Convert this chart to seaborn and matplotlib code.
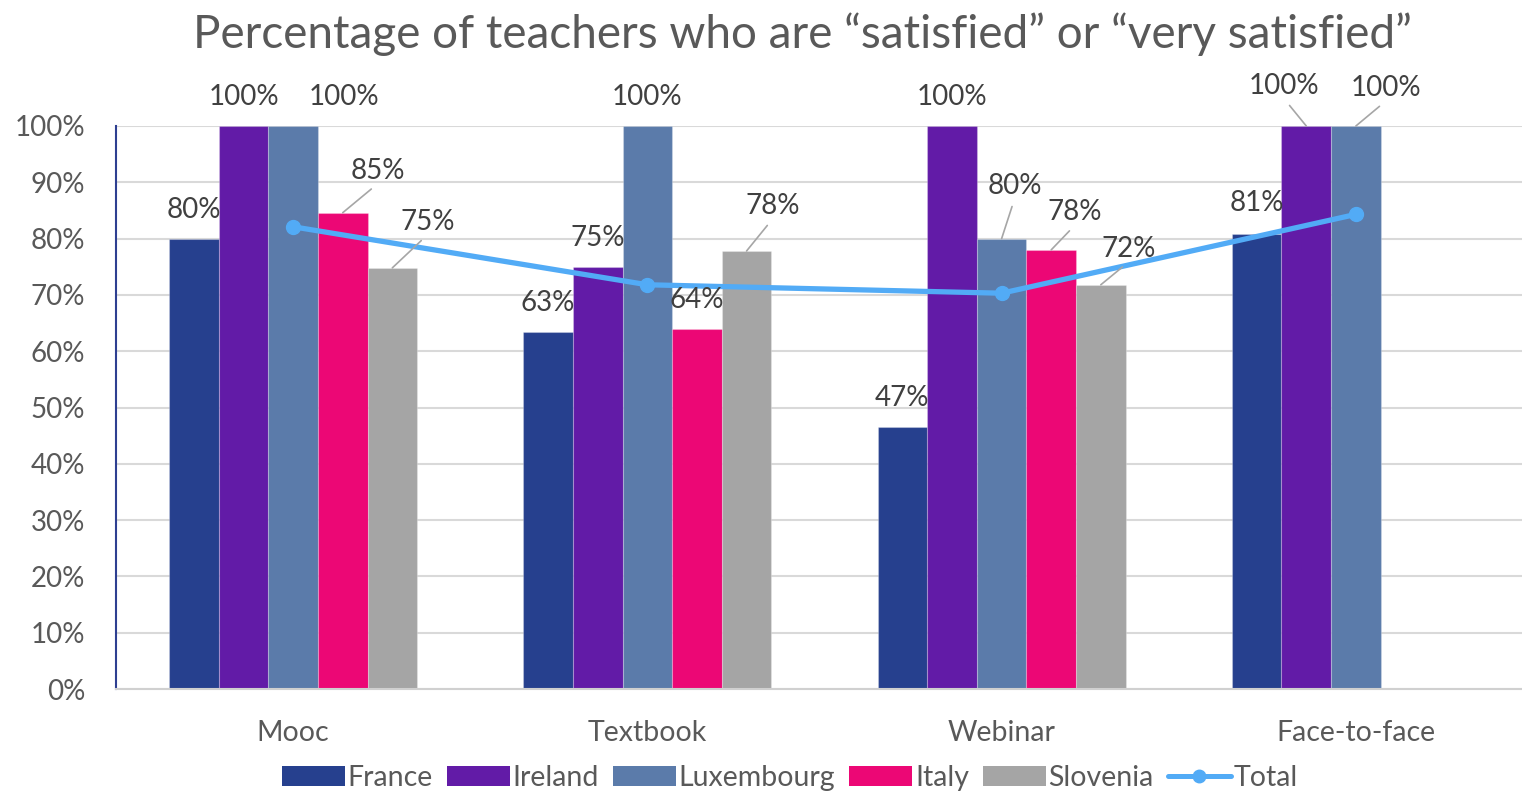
import matplotlib
matplotlib.use("Agg")
import matplotlib.pyplot as plt
from matplotlib.patches import Patch
from matplotlib.lines import Line2D
import numpy as np
import pandas as pd
import seaborn as sns

# --- data -------------------------------------------------------------
categories = ["Mooc", "Textbook", "Webinar", "Face-to-face"]
countries = ["France", "Ireland", "Luxembourg", "Italy", "Slovenia"]
france = [80, 63.4, 46.6, 80.8]
ireland = [100, 75, 100, 100]
luxembourg = [100, 100, 80, 100]
italy = [84.6, 64, 78, np.nan]
slovenia = [74.8, 77.8, 71.8, np.nan]
total = [82.1, 71.8, 70.3, 84.3]
y_ticks = [0, 10, 20, 30, 40, 50, 60, 70, 80, 90, 100]

series = {"France": france, "Ireland": ireland, "Luxembourg": luxembourg,
          "Italy": italy, "Slovenia": slovenia}

# --- styling ----------------------------------------------------------
palette = {"France": "#26408E", "Ireland": "#621BA7", "Luxembourg": "#5B7BAA",
           "Italy": "#EC0775", "Slovenia": "#A5A5A5"}
total_color = "#52ABF6"
text_grey = "#595959"
label_grey = "#404040"
FONT = ["Lato", "DejaVu Sans"]

# label offsets in pixels above each bar top (dx, dy, leader line?)
default_offset = (0, 29, False)
label_offsets = {
    ("Mooc", "Luxembourg"): (51, 29, False),
    ("Mooc", "Italy"): (35, 42, True),
    ("Mooc", "Slovenia"): (35, 46, True),
    ("Textbook", "Slovenia"): (26, 45, True),
    ("Webinar", "Luxembourg"): (13, 53, True),
    ("Webinar", "Italy"): (24, 38, True),
    ("Webinar", "Slovenia"): (28, 36, True),
    ("Face-to-face", "France"): (0, 31, False),
    ("Face-to-face", "Ireland"): (-22, 40, True),
    ("Face-to-face", "Luxembourg"): (30, 38, True),
}

sns.set_theme(style="white")
plt.rcParams["font.family"] = FONT

rows = []
for c in countries:
    for cat, v in zip(categories, series[c]):
        rows.append({"category": cat, "country": c, "value": v})
df = pd.DataFrame(rows)

fig = plt.figure(figsize=(15.22, 7.93), dpi=100)
ax = fig.add_axes([116 / 1522, 104 / 793, 1417 / 1522, 563 / 793])

sns.barplot(data=df, x="category", y="value", hue="country",
            order=categories, hue_order=countries, palette=palette,
            width=0.7, gap=0, saturation=1, linewidth=0.8,
            edgecolor="#FFFFFF40", legend=False, ax=ax, zorder=2)

# total line across the groups
xs = np.arange(len(categories))
ax.plot(xs, total, color=total_color, lw=3.8, marker="o", markersize=10,
        zorder=5, solid_capstyle="round")

ax.set_xlim(-0.5, len(categories) - 0.5)
ax.set_ylim(0, 100)
ax.set_yticks(y_ticks)
ax.set_yticklabels([f"{t}%" for t in y_ticks])
ax.set_xlabel("")
ax.set_ylabel("")
ax.tick_params(axis="y", length=0, pad=22, labelsize=20, labelcolor=text_grey)
ax.tick_params(axis="x", length=0, pad=22, labelsize=20.5, labelcolor=text_grey)
ax.grid(axis="y", color="#D9D9D9", lw=1.5, zorder=0)
ax.set_axisbelow(True)
for s in ["top", "right"]:
    ax.spines[s].set_visible(False)
ax.spines["left"].set_color("#2E3F91")
ax.spines["left"].set_linewidth(1.5)
ax.spines["bottom"].set_color("#D0D0D0")
ax.spines["bottom"].set_linewidth(1.5)

# value labels
n = len(countries)
bw = 0.7 / n
for j, c in enumerate(countries):
    for i, cat in enumerate(categories):
        v = series[c][i]
        if np.isnan(v):
            continue
        x = i - 0.35 + bw * (j + 0.5)
        dx, dy, leader = label_offsets.get((cat, c), default_offset)
        kw = {}
        if leader:
            kw["arrowprops"] = dict(arrowstyle="-", color="#A6A6A6", lw=1.2,
                                    relpos=(0.5, 0.0), patchA=None,
                                    shrinkA=6, shrinkB=0)
        ax.annotate(f"{v:.0f}%", xy=(x, v), xytext=(dx, dy),
                    textcoords="offset pixels", ha="center", va="center",
                    fontsize=20, color=label_grey, annotation_clip=False,
                    zorder=6, **kw)

fig.text(0.527, 0.957, "Percentage of teachers who are \u201csatisfied\u201d or \u201cvery satisfied\u201d",
         ha="center", va="center", fontsize=33, color=text_grey)

handles = [Patch(facecolor=palette[c], edgecolor="none", label=c) for c in countries]
handles.append(Line2D([0], [0], color=total_color, lw=3.6, marker="o",
                      markersize=9, label="Total"))
fig.legend(handles=handles, loc="center", bbox_to_anchor=(0.519, 0.019),
           ncol=6, frameon=False, fontsize=20.5, labelcolor=text_grey,
           handlelength=2.2, handleheight=0.75, handletextpad=0.1,
           columnspacing=0.5, borderpad=0)

fig.savefig("out.png", dpi=100)
